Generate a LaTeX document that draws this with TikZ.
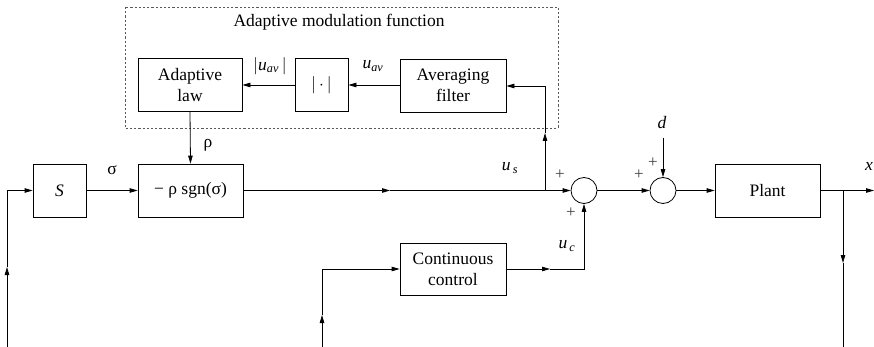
\documentclass[tikz,border=0pt]{standalone}
\usepackage{fontspec}
\setmainfont{Liberation Serif}
\usetikzlibrary{arrows.meta}
\begin{document}
\begin{tikzpicture}[x=1pt,y=-1pt,
  every node/.style={font=\fontsize{17.5}{21}\selectfont},
  blk/.style={draw,line width=0.8pt,minimum width=105pt,minimum height=53pt,inner sep=0pt,align=center},
  sq/.style={draw,line width=0.8pt,minimum width=53pt,minimum height=53pt,inner sep=0pt},
  sumc/.style={draw,circle,line width=0.8pt,minimum size=26pt,inner sep=0pt},
  wire/.style={line width=0.8pt},
  arr/.style={wire,-{Triangle[length=8pt,width=4.5pt]}},
  lbl/.style={inner sep=0pt},
  pl/.style={inner sep=0pt,text=black!75,font=\fontsize{17}{17}\selectfont}]
\useasboundingbox (0,0) rectangle (874,347);
% dashed group
\draw[gray!70!black,line width=0.8pt,dash pattern=on 2.2pt off 2pt] (125,7) rectangle (558,128);
\node[lbl] (title) at (339,22) {Adaptive modulation function};
% blocks
\node[blk,minimum width=104pt] (adapt) at (190,85) {Adaptive\\law};
\node[sq] (abs) at (321.5,85) {$|$\,$\cdot$\,$|$};
\node[blk,minimum width=106pt] (avg) at (453,85.5) {Averaging\\filter};
\node[sq] (S) at (59.5,190.5) {\textit{S}};
\node[blk] (sgn) at (190.5,190.5) {− ρ sgn(σ)};
\node[blk,minimum width=106pt,minimum height=52pt] (cc) at (453,269) {Continuous\\control};
\node[blk] (plant) at (767.5,190.5) {Plant};
\node[sumc] (c1) at (584,190.5) {};
\node[sumc] (c2) at (663,190.5) {};
% coordinates
\coordinate (br) at (545,190.5);
\coordinate (brtop) at (545,86);
\coordinate (brmid) at (545,133);
\coordinate (mainmid) at (390,190.5);
\coordinate (lfb) at (7,347);
\coordinate (lfbmid) at (7,267);
\coordinate (lfbc) at (7,190.5);
\coordinate (mfb) at (322,347);
\coordinate (mfbmid) at (322,315);
\coordinate (mfbc) at (322,269);
\coordinate (ccmid) at (550,269);
\coordinate (ccc) at (584,269);
\coordinate (xout) at (874,190.5);
\coordinate (rfb) at (843,190.5);
\coordinate (rfbmid) at (843,263);
\coordinate (rfbend) at (843,347);
\coordinate (dtop) at (663,138);
% connectors
\draw[arr] (avg.west |- 0,85) -- (abs.east);
\draw[arr] (abs.west) -- (adapt.east);
\draw[arr] (adapt.south) -- (sgn.north);
\draw[arr] (S.east) -- (sgn.west);
\draw[arr] (sgn.east) -- (mainmid);
\draw[arr] (mainmid) -- (c1.west);
\draw[arr] (br) -- (brmid);
\draw[arr] (brmid) -- (brtop) -- (avg.east |- brtop);
\draw[arr] (c1.east) -- (c2.west);
\draw[arr] (dtop) -- (c2.north);
\draw[arr] (c2.east) -- (plant.west);
\draw[arr] (plant.east) -- (xout);
\draw[arr] (rfb) -- (rfbmid);
\draw[wire] (rfbmid) -- (rfbend);
\draw[arr] (lfb) -- (lfbmid);
\draw[arr] (lfbmid) -- (lfbc) -- (S.west);
\draw[arr] (mfb) -- (mfbmid);
\draw[arr] (mfbmid) -- (mfbc) -- (cc.west);
\draw[arr] (cc.east) -- (ccmid);
\draw[arr] (ccmid) -- (ccc) -- (c1.south);
% labels
\node[lbl] (luabs) at (270,66) {$|$\textit{u}\textsubscript{\textit{av}}$\,|$};
\node[lbl] (luav) at (373,66) {\textit{u}\textsubscript{\textit{av}}};
\node[lbl] (lrho) at (208,145) {ρ};
\node[lbl] (lsig) at (112,170) {σ};
\node[lbl] (lus) at (510,168) {\textit{u}\textsubscript{\,\textit{s}}};
\node[lbl] (luc) at (567,246) {\textit{u}\textsubscript{\,\textit{c}}};
\node[lbl] (ld) at (662,123) {\textit{d}};
\node[lbl] (lx) at (869,166) {\textit{x}};
\node[pl] (p1) at (560,175) {+};
\node[pl] (p2) at (571,213) {+};
\node[pl] (p3) at (639,175) {+};
\node[pl] (p4) at (653,163) {+};
\end{tikzpicture}
\end{document}
